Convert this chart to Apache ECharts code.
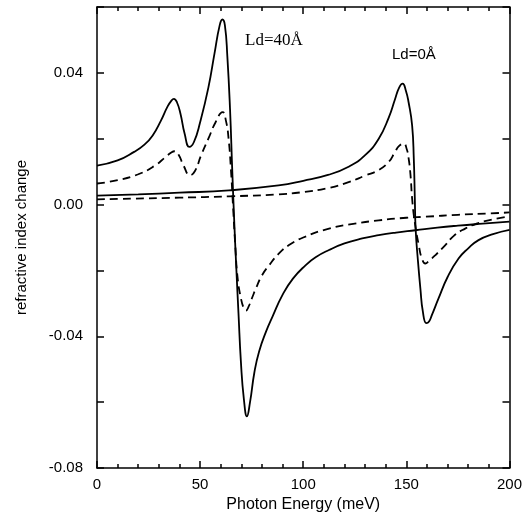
<!DOCTYPE html>
<html>
<head>
<meta charset="utf-8">
<script src="https://cdn.jsdelivr.net/npm/echarts@6/dist/echarts.min.js"></script>
<style>
  html, body { margin: 0; padding: 0; background: #fff; }
  #main { width: 525px; height: 519px; }
</style>
</head>
<body>
<div id="main"></div>
<script>
// values: [photon energy (meV), refractive index change]
const ld40Solid = [
  [0, 0.0118], [10, 0.0134], [18, 0.0160], [23, 0.0182], [27, 0.0210], [31, 0.0255],
  [34, 0.0295], [36, 0.0315], [37.3, 0.0321], [38.8, 0.0310], [40.5, 0.0275], [42.5, 0.0215],
  [44.8, 0.0175], [47, 0.0190], [50, 0.0250], [54, 0.0355], [57, 0.0460], [59.5, 0.0545],
  [60.8, 0.0562], [62, 0.0545], [63.2, 0.0450], [64.5, 0.0290], [65.6, 0.0100],
  [66.6, -0.0060], [67.6, -0.0200], [68.6, -0.0330], [69.8, -0.0480], [71.2, -0.0590],
  [72.7, -0.0643], [74.2, -0.0600], [76.3, -0.0510], [78.6, -0.0446], [82, -0.0385],
  [85.1, -0.0340], [89.9, -0.0275], [95, -0.0225], [101.2, -0.0184], [106, -0.0160],
  [112.5, -0.0138], [120, -0.0118], [128.6, -0.0103], [136.6, -0.0093], [145, -0.0085],
  [154.4, -0.0078], [165, -0.0070], [175, -0.0064], [187, -0.0058], [200, -0.0052]
];
const ld40Dashed = [
  [0, 0.0064], [10, 0.0074], [20, 0.0092], [28, 0.0118], [33, 0.0143], [36, 0.0158],
  [37.6, 0.0162], [39.5, 0.0152], [42, 0.0118], [45.1, 0.0089], [47.5, 0.0102], [50.5, 0.0150],
  [54, 0.0200], [57.5, 0.0250], [60.9, 0.0281], [62.5, 0.0255], [63.8, 0.0200], [65, 0.0100],
  [66, -0.0010], [67, -0.0120], [68.2, -0.0224], [69.8, -0.0285], [71.2, -0.0315],
  [72.2, -0.0322], [73.5, -0.0310], [75.4, -0.0280], [77, -0.0255], [80, -0.0215],
  [83.5, -0.0184], [88, -0.0150], [93.1, -0.0123], [100, -0.0100], [112.5, -0.0073],
  [125, -0.0058], [136.6, -0.0048], [150, -0.0040], [159.2, -0.0037], [175, -0.0031],
  [190, -0.0027], [200, -0.0024]
];
const ld0Solid = [
  [0, 0.0027], [20, 0.0031], [40, 0.0036], [64, 0.0043], [88, 0.0058], [100, 0.0072],
  [112, 0.0090], [122, 0.0115], [130, 0.0150], [136.6, 0.0200], [141.5, 0.0265],
  [144.5, 0.0320], [146.5, 0.0355], [148.2, 0.0367], [149.8, 0.0345], [151.1, 0.0310],
  [152.8, 0.0240], [153.6, 0.0140], [154.1, 0.0020], [154.5, -0.0075], [155.6, -0.0170],
  [156.8, -0.0255], [158, -0.0325], [159.7, -0.0360], [161, -0.0355], [162.4, -0.0335],
  [165.6, -0.0285], [170, -0.0220], [175.3, -0.0164], [180, -0.0133], [185, -0.0108],
  [192, -0.0090], [200, -0.0077]
];
const ld0Dashed = [
  [0, 0.0016], [40, 0.0021], [64, 0.0025], [88, 0.0031], [100, 0.0038], [112, 0.0050],
  [122, 0.0068], [130, 0.0088], [136.6, 0.0105], [141.5, 0.0130], [144.5, 0.0160],
  [146.5, 0.0178], [148.7, 0.0185], [150.2, 0.0168], [151.1, 0.0140], [152, 0.0090],
  [152.8, 0.0018], [154, -0.0050], [156, -0.0123], [157.6, -0.0165], [159.2, -0.0179],
  [160.8, -0.0172], [164, -0.0154], [168.9, -0.0123], [173, -0.0095], [178.5, -0.0073],
  [184, -0.0058], [189.8, -0.0048], [200, -0.0036]
];
const xTicks = [0, 50, 100, 150, 200];
const yLabelled = [-0.08, -0.04, 0, 0.04];

const chart = echarts.init(document.getElementById('main'), null, { renderer: 'canvas' });

const axisFont = 'Liberation Sans, Arial, sans-serif';
const black = { color: '#000', width: 1.5 };
const tickStyle = { color: '#000', width: 1.5 };

function yLabel(v) {
  // only every other tick carries a number
  for (let i = 0; i < yLabelled.length; i++) {
    if (Math.abs(v - yLabelled[i]) < 1e-6) {
      return Math.abs(v) < 1e-6 ? '0.00' : v.toFixed(2);
    }
  }
  return '';
}

function xLabel(v) {
  return xTicks.indexOf(v) >= 0 ? String(v) : '';
}

function line(data, dashed) {
  return {
    type: 'line',
    data: data,
    xAxisIndex: 0,
    yAxisIndex: 0,
    showSymbol: false,
    symbol: 'none',
    smooth: 0.5,
    lineStyle: { color: '#000', width: 1.8, type: dashed ? [8, 5] : 'solid' },
    silent: true
  };
}

const option = {
  animation: false,
  backgroundColor: '#fff',
  grid: { left: 97, right: 14, top: 7, bottom: 51 },
  xAxis: [{
    type: 'value', min: 0, max: 200, interval: 50,
    name: 'Photon Energy (meV)', nameLocation: 'middle', nameGap: 29,
    nameTextStyle: { color: '#000', fontSize: 16, fontFamily: axisFont },
    axisLine: { onZero: false, lineStyle: black },
    axisTick: { show: true, inside: true, length: 7, lineStyle: tickStyle },
    minorTick: { show: true, splitNumber: 5, length: 4, lineStyle: tickStyle },
    axisLabel: { color: '#000', fontSize: 15, fontFamily: axisFont, margin: 9, formatter: xLabel },
    splitLine: { show: false }
  }, {
    type: 'value', min: 0, max: 200, interval: 50, position: 'top',
    axisLine: { onZero: false, lineStyle: black },
    axisTick: { show: true, inside: true, length: 7, lineStyle: tickStyle },
    minorTick: { show: true, splitNumber: 5, length: 4, lineStyle: tickStyle },
    axisLabel: { show: false },
    splitLine: { show: false }
  }],
  yAxis: [{
    type: 'value', min: -0.08, max: 0.06, interval: 0.02,
    name: 'refractive index change', nameLocation: 'middle', nameGap: 68,
    nameTextStyle: { color: '#000', fontSize: 15, fontFamily: axisFont },
    axisLine: { onZero: false, lineStyle: black },
    axisTick: { show: true, inside: true, length: 7, lineStyle: tickStyle },
    axisLabel: { color: '#000', fontSize: 15, fontFamily: axisFont, margin: 14, formatter: yLabel },
    splitLine: { show: false }
  }, {
    type: 'value', min: -0.08, max: 0.06, interval: 0.02, position: 'right',
    axisLine: { onZero: false, lineStyle: black },
    axisTick: { show: true, inside: true, length: 7, lineStyle: tickStyle },
    axisLabel: { show: false },
    splitLine: { show: false }
  }],
  graphic: [{
    type: 'text', left: 245, top: 32,
    style: { text: 'Ld=40Å', fill: '#000', font: '17px "Liberation Serif", "Times New Roman", serif' }
  }, {
    type: 'text', left: 392, top: 47,
    style: { text: 'Ld=0Å', fill: '#000', font: '15px "Liberation Sans", Arial, sans-serif' }
  }],
  series: [
    line(ld40Solid, false),
    line(ld40Dashed, true),
    line(ld0Solid, false),
    line(ld0Dashed, true)
  ]
};

chart.setOption(option);
</script>
</body>
</html>
